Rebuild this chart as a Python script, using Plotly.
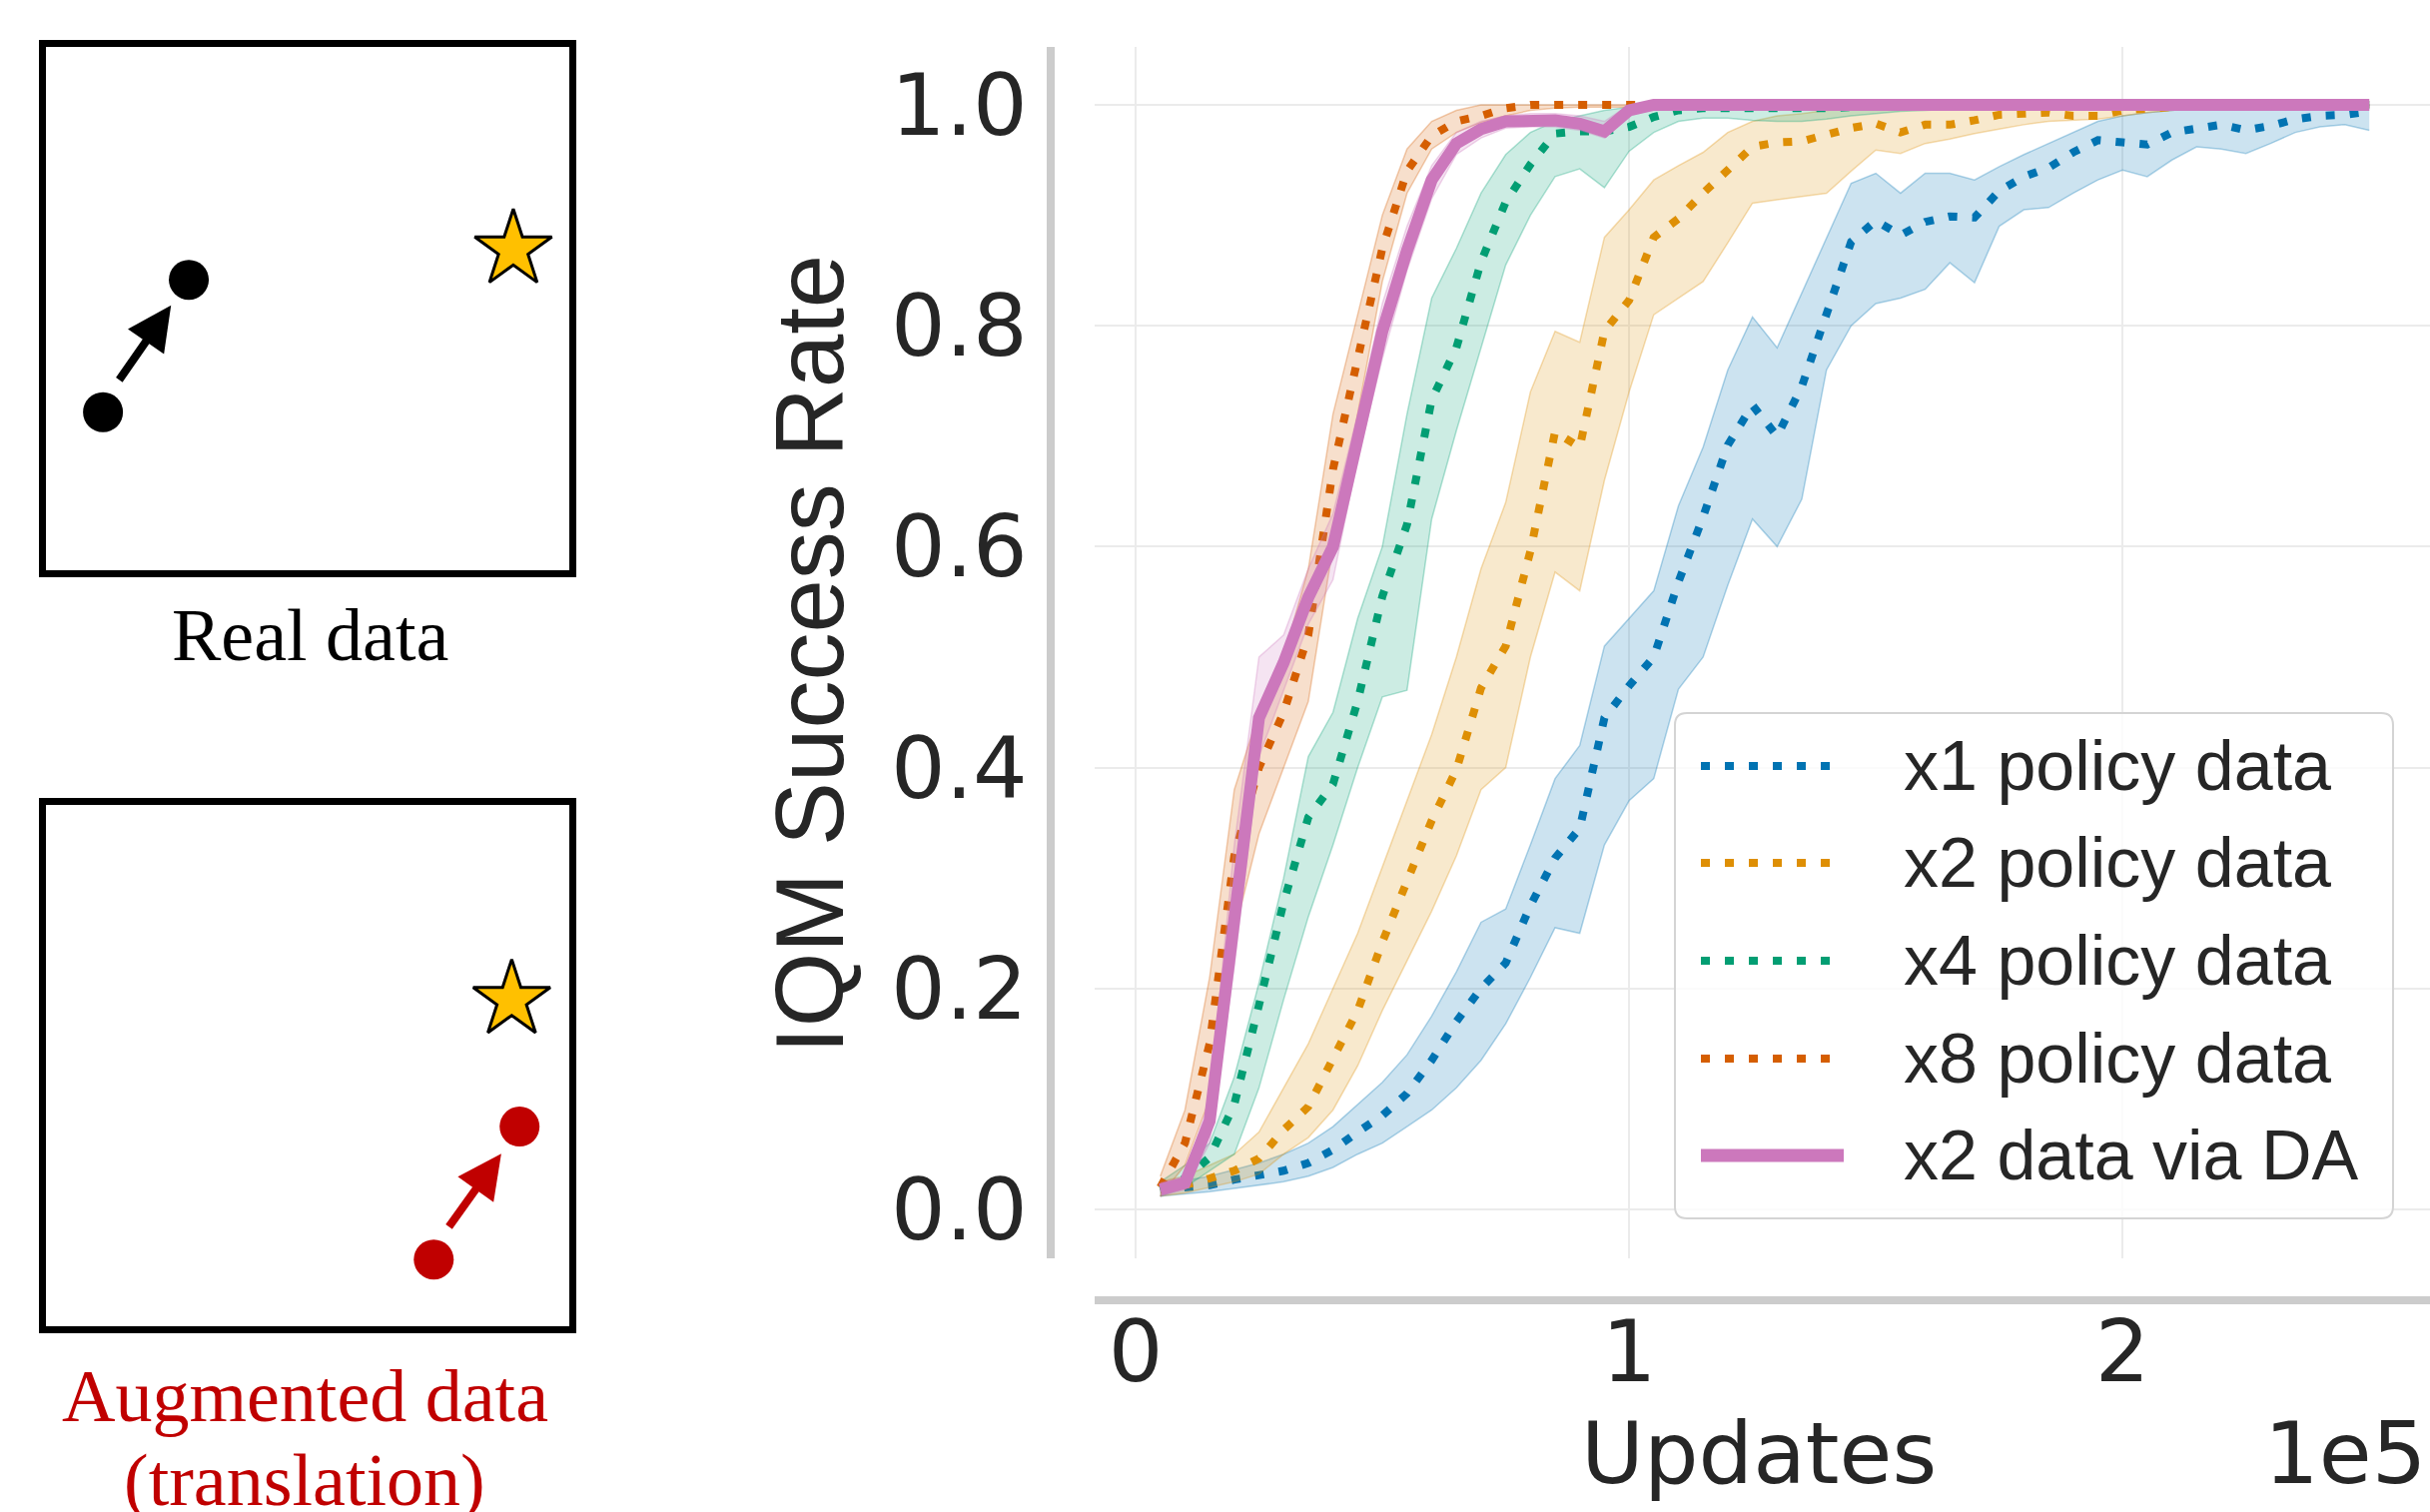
import plotly.graph_objects as go

W, H = 2433, 1514

# ---------------- data (updates in units of 1e5) ----------------
updates = [0.05, 0.10, 0.15, 0.20, 0.25, 0.30, 0.35, 0.40, 0.45, 0.50,
           0.55, 0.60, 0.65, 0.70, 0.75, 0.80, 0.85, 0.90, 0.95, 1.00,
           1.05, 1.10, 1.15, 1.20, 1.25, 1.30, 1.35, 1.40, 1.45, 1.50,
           1.55, 1.60, 1.65, 1.70, 1.75, 1.80, 1.85, 1.90, 1.95, 2.00,
           2.05, 2.10, 2.15, 2.20, 2.25, 2.30, 2.35, 2.40, 2.45, 2.50]

x1_mean = [.018, .020, .022, .027, .031, .035, .042, .054, .070, .085,
           .105, .135, .170, .200, .223, .275, .318, .345, .445, .474,
           .500, .568, .627, .692, .728, .700, .745, .812, .876, .895,
           .882, .894, .899, .898, .922, .935, .943, .957, .968, .966,
           .964, .975, .979, .982, .977, .981, .987, .990, .991, .994]
x1_low = [.012, .014, .016, .019, .022, .025, .030, .038, .050, .060,
          .075, .090, .110, .135, .168, .210, .255, .250, .330, .370,
          .390, .471, .500, .565, .625, .600, .643, .760, .800, .820,
          .825, .833, .857, .839, .890, .905, .907, .920, .932, .941,
          .935, .950, .962, .960, .956, .965, .975, .980, .982, .977]
x1_high = [.022, .026, .030, .036, .042, .050, .060, .075, .095, .115,
           .140, .175, .215, .260, .272, .330, .390, .420, .510, .535,
           .560, .637, .690, .760, .808, .780, .830, .880, .929, .938,
           .920, .938, .938, .932, .944, .955, .965, .975, .985, .990,
           .993, .995, .997, 1.0, 1.0, 1.0, 1.0, 1.0, 1.0, 1.0]

x2_mean = [.018, .022, .028, .035, .046, .072, .093, .137, .180, .242,
           .295, .352, .398, .472, .510, .596, .704, .690, .795, .823,
           .880, .897, .920, .940, .962, .966, .967, .973, .979, .983,
           .975, .982, .982, .986, .991, .992, .993, .990, .990, .995,
           .997, .998, .999, 1.0, 1.0, 1.0, 1.0, 1.0, 1.0, 1.0]
x2_low = [.012, .015, .020, .025, .032, .050, .065, .090, .130, .180,
          .225, .270, .320, .380, .400, .500, .577, .560, .660, .740,
          .810, .825, .840, .875, .911, .914, .917, .920, .940, .959,
          .956, .965, .969, .974, .978, .982, .985, .986, .987, .990,
          .993, .995, .997, .998, .998, .998, .998, .998, .998, .998]
x2_high = [.025, .030, .040, .050, .070, .110, .150, .200, .250, .310,
           .370, .430, .500, .580, .640, .740, .795, .785, .880, .905,
           .932, .945, .957, .975, .985, .990, .992, .995, .997, 1.0,
           1.0, 1.0, 1.0, 1.0, 1.0, 1.0, 1.0, 1.0, 1.0, 1.0,
           1.0, 1.0, 1.0, 1.0, 1.0, 1.0, 1.0, 1.0, 1.0, 1.0]

x4_mean = [.018, .028, .047, .095, .185, .278, .355, .385, .460, .555,
           .620, .733, .780, .858, .912, .946, .974, .976, .976, .980,
           .989, .995, .997, .997, .997, .996, .996, .997, .998, .998,
           .999, 1.0, 1.0, 1.0, 1.0, 1.0, 1.0, 1.0, 1.0, 1.0,
           1.0, 1.0, 1.0, 1.0, 1.0, 1.0, 1.0, 1.0, 1.0, 1.0]
x4_low = [.012, .020, .035, .050, .110, .190, .265, .330, .400, .464,
          .470, .625, .705, .780, .855, .900, .935, .942, .925, .958,
          .975, .985, .988, .988, .986, .985, .985, .987, .990, .992,
          .994, .995, .996, .997, .998, .998, .998, .998, .998, .998,
          .998, .998, .998, .998, .998, .998, .998, .998, .998, .998]
x4_high = [.025, .040, .060, .120, .205, .300, .410, .450, .535, .600,
           .720, .825, .870, .920, .955, .975, .985, .990, .995, .998,
           1.0, 1.0, 1.0, 1.0, 1.0, 1.0, 1.0, 1.0, 1.0, 1.0,
           1.0, 1.0, 1.0, 1.0, 1.0, 1.0, 1.0, 1.0, 1.0, 1.0,
           1.0, 1.0, 1.0, 1.0, 1.0, 1.0, 1.0, 1.0, 1.0, 1.0]

x8_mean = [.020, .060, .150, .320, .400, .450, .520, .670, .770, .870,
           .940, .972, .985, .990, .997, 1.0, 1.0, 1.0, 1.0, 1.0,
           1.0, 1.0, 1.0, 1.0, 1.0, 1.0, 1.0, 1.0, 1.0, 1.0,
           1.0, 1.0, 1.0, 1.0, 1.0, 1.0, 1.0, 1.0, 1.0, 1.0,
           1.0, 1.0, 1.0, 1.0, 1.0, 1.0, 1.0, 1.0, 1.0, 1.0]
x8_low = [.012, .040, .100, .250, .340, .400, .460, .600, .720, .840,
          .920, .960, .975, .984, .990, .995, .997, .998, .998, .998,
          .998, .998, .998, .998, .998, .998, .998, .998, .998, .998,
          .998, .998, .998, .998, .998, .998, .998, .998, .998, .998,
          .998, .998, .998, .998, .998, .998, .998, .998, .998, .998]
x8_high = [.030, .090, .210, .380, .450, .500, .580, .720, .810, .900,
           .960, .985, .995, 1.0, 1.0, 1.0, 1.0, 1.0, 1.0, 1.0,
           1.0, 1.0, 1.0, 1.0, 1.0, 1.0, 1.0, 1.0, 1.0, 1.0,
           1.0, 1.0, 1.0, 1.0, 1.0, 1.0, 1.0, 1.0, 1.0, 1.0,
           1.0, 1.0, 1.0, 1.0, 1.0, 1.0, 1.0, 1.0, 1.0, 1.0]

da_mean = [.018, .024, .080, .270, .445, .495, .554, .600, .700, .795,
           .868, .932, .965, .978, .985, .986, .986, .983, .976, .995,
           1.0, 1.0, 1.0, 1.0, 1.0, 1.0, 1.0, 1.0, 1.0, 1.0,
           1.0, 1.0, 1.0, 1.0, 1.0, 1.0, 1.0, 1.0, 1.0, 1.0,
           1.0, 1.0, 1.0, 1.0, 1.0, 1.0, 1.0, 1.0, 1.0, 1.0]
da_low = [.012, .018, .060, .220, .410, .470, .530, .570, .680, .770,
          .850, .915, .955, .970, .979, .980, .980, .977, .970, .990,
          .996, .996, .996, .996, .996, .996, .996, .996, .996, .996,
          .996, .996, .996, .996, .996, .996, .996, .996, .996, .996,
          .996, .996, .996, .996, .996, .996, .996, .996, .996, .996]
da_high = [.024, .030, .100, .330, .500, .520, .580, .630, .720, .820,
           .890, .945, .975, .985, .990, .992, .992, .990, .985, 1.0,
           1.003, 1.003, 1.003, 1.003, 1.003, 1.003, 1.003, 1.003, 1.003, 1.003,
           1.003, 1.003, 1.003, 1.003, 1.003, 1.003, 1.003, 1.003, 1.003, 1.003,
           1.003, 1.003, 1.003, 1.003, 1.003, 1.003, 1.003, 1.003, 1.003, 1.003]

series_names = ["x1 policy data", "x2 policy data", "x4 policy data",
                "x8 policy data", "x2 data via DA"]
x_tick_vals = [0, 1, 2]
x_tick_text = ["0", "1", "2"]
y_tick_vals = [0.0, 0.2, 0.4, 0.6, 0.8, 1.0]
y_tick_text = ["0.0", "0.2", "0.4", "0.6", "0.8", "1.0"]

# schematic panels (box coordinates 0..1)
real_pts_x = [0.109, 0.273]
real_pts_y = [0.302, 0.555]
real_goal_x = [0.893]
real_goal_y = [0.613]
real_arrow = [0.138, 0.361, 0.239, 0.506]   # tail x, tail y, tip x, tip y
aug_pts_x = [0.741, 0.905]
aug_pts_y = [0.128, 0.383]
aug_goal_x = [0.890]
aug_goal_y = [0.626]
aug_arrow = [0.768, 0.188, 0.870, 0.331]

# ---------------- style ----------------
BLUE, ORANGE, GREEN, VERM, PINK = "#0173B2", "#DE8F05", "#029E73", "#D55E00", "#CC78BC"
RED = "#C00000"
GOLD = "#FFC000"
TEXT = "#262626"
DOT = "9px,15px"


def px(x):
    return x / W


def py(y):
    return (H - y) / H


def rgba(h, a):
    h = h.lstrip("#")
    return "rgba(%d,%d,%d,%.3f)" % (int(h[0:2], 16), int(h[2:4], 16), int(h[4:6], 16), a)


fig = go.Figure()

series = [
    (series_names[0], x1_mean, x1_low, x1_high, BLUE, True),
    (series_names[1], x2_mean, x2_low, x2_high, ORANGE, True),
    (series_names[2], x4_mean, x4_low, x4_high, GREEN, True),
    (series_names[3], x8_mean, x8_low, x8_high, VERM, True),
    (series_names[4], da_mean, da_low, da_high, PINK, False),
]

for name, m, lo, hi, c, dotted in series:
    fig.add_trace(go.Scatter(x=updates, y=lo, mode="lines",
                             line=dict(color=rgba(c, 0.30), width=1.5),
                             showlegend=False, hoverinfo="skip"))
    fig.add_trace(go.Scatter(x=updates, y=hi, mode="lines", fill="tonexty",
                             fillcolor=rgba(c, 0.20),
                             line=dict(color=rgba(c, 0.30), width=1.5),
                             showlegend=False, hoverinfo="skip"))
    fig.add_trace(go.Scatter(x=updates, y=m, mode="lines", name=name,
                             line=dict(color=c, width=8 if dotted else 12,
                                       dash=DOT if dotted else "solid"),
                             showlegend=False))

# schematic traces
fig.add_trace(go.Scatter(x=real_pts_x, y=real_pts_y, mode="markers", xaxis="x2", yaxis="y2",
                         marker=dict(size=40, color="black"), showlegend=False))
fig.add_trace(go.Scatter(x=real_goal_x, y=real_goal_y, mode="markers", xaxis="x2", yaxis="y2",
                         marker=dict(symbol="star", size=58, color=GOLD,
                                     line=dict(color="black", width=3)), showlegend=False))
fig.add_trace(go.Scatter(x=aug_pts_x, y=aug_pts_y, mode="markers", xaxis="x3", yaxis="y3",
                         marker=dict(size=40, color=RED), showlegend=False))
fig.add_trace(go.Scatter(x=aug_goal_x, y=aug_goal_y, mode="markers", xaxis="x3", yaxis="y3",
                         marker=dict(symbol="star", size=58, color=GOLD,
                                     line=dict(color="black", width=3)), showlegend=False))

annotations = []
for arr, ax_id, col in [(real_arrow, "2", "black"), (aug_arrow, "3", RED)]:
    annotations.append(dict(x=arr[2], y=arr[3], ax=arr[0], ay=arr[1],
                            xref="x" + ax_id, yref="y" + ax_id,
                            axref="x" + ax_id, ayref="y" + ax_id,
                            showarrow=True, arrowhead=2, arrowsize=1.1, arrowwidth=8,
                            arrowcolor=col, text="", standoff=0, startstandoff=0))

serif = "Liberation Serif"
annotations += [
    dict(x=px(310), y=py(636), xref="paper", yref="paper", text="Real data", showarrow=False,
         font=dict(family=serif, size=74, color="black"), xanchor="center", yanchor="middle"),
    dict(x=px(305), y=py(1398), xref="paper", yref="paper", text="Augmented data", showarrow=False,
         font=dict(family=serif, size=74, color=RED), xanchor="center", yanchor="middle"),
    dict(x=px(305), y=py(1482), xref="paper", yref="paper", text="(translation)", showarrow=False,
         font=dict(family=serif, size=74, color=RED), xanchor="center", yanchor="middle"),
    dict(x=px(810), y=py(655), xref="paper", yref="paper", text="IQM Success Rate", showarrow=False,
         textangle=-90, font=dict(family="Liberation Sans", size=96, color=TEXT),
         xanchor="center", yanchor="middle"),
    dict(x=px(1761), y=py(1455), xref="paper", yref="paper", text="Updates", showarrow=False,
         font=dict(family="DejaVu Sans", size=86, color=TEXT), xanchor="center", yanchor="middle"),
    dict(x=px(2431), y=py(1455), xref="paper", yref="paper", text="1e5", showarrow=False,
         font=dict(family="DejaVu Sans", size=86, color=TEXT), xanchor="right", yanchor="middle"),
]

# ---------------- legend (drawn manually) ----------------
def rrect(x0, y0, x1, y1, r):
    def P(x, y):
        return "%.5f,%.5f" % (px(x), py(y))
    return ("M" + P(x0 + r, y0) + " L" + P(x1 - r, y0) + " Q" + P(x1, y0) + " " + P(x1, y0 + r) +
            " L" + P(x1, y1 - r) + " Q" + P(x1, y1) + " " + P(x1 - r, y1) +
            " L" + P(x0 + r, y1) + " Q" + P(x0, y1) + " " + P(x0, y1 - r) +
            " L" + P(x0, y0 + r) + " Q" + P(x0, y0) + " " + P(x0 + r, y0) + " Z")


shapes = [dict(type="path", xref="paper", yref="paper", path=rrect(1677, 714, 2396, 1220, 12),
               fillcolor="rgba(255,255,255,0.8)", line=dict(color="#d4d4d4", width=2), layer="above")]
rows = [767, 864, 962, 1060, 1157]
for (name, m, lo, hi, c, dotted), ry in zip(series, rows):
    shapes.append(dict(type="line", xref="paper", yref="paper",
                       x0=px(1703), x1=px(1846), y0=py(ry), y1=py(ry),
                       line=dict(color=c, width=8 if dotted else 13,
                                 dash=DOT if dotted else "solid"), layer="above"))
    annotations.append(dict(x=px(1904), y=py(ry), xref="paper", yref="paper", text=name,
                            showarrow=False, xanchor="left", yanchor="middle",
                            font=dict(family="Liberation Sans", size=70, color=TEXT)))

box_axis = dict(range=[0, 1], showline=True, mirror=True, linecolor="black", linewidth=7,
                showgrid=False, zeroline=False, showticklabels=False, ticks="", fixedrange=True)

fig.update_layout(
    width=W, height=H, autosize=False,
    margin=dict(l=0, r=0, t=0, b=0, pad=0),
    paper_bgcolor="white", plot_bgcolor="white",
    showlegend=False,
    xaxis=dict(domain=[px(1096), 1.0], range=[-0.083, 2.623], anchor="free", position=py(1302),
               showline=True, linecolor="#cccccc", linewidth=8,
               showgrid=True, gridcolor="#ebebeb", gridwidth=2, zeroline=False,
               tickvals=x_tick_vals, ticktext=x_tick_text, ticks="",
               tickfont=dict(family="DejaVu Sans", size=86, color=TEXT), ticklabelstandoff=-26),
    yaxis=dict(domain=[py(1260), py(47)], range=[-0.0443, 1.0524], anchor="free", position=px(1052),
               showline=True, linecolor="#cccccc", linewidth=8,
               showgrid=True, gridcolor="#ebebeb", gridwidth=2, zeroline=False,
               tickvals=y_tick_vals, ticktext=y_tick_text, ticks="",
               tickfont=dict(family="DejaVu Sans", size=86, color=TEXT), ticklabelstandoff=2),
    xaxis2=dict(domain=[px(46), px(570)], anchor="y2", **box_axis),
    yaxis2=dict(domain=[py(571), py(47)], anchor="x2", **box_axis),
    xaxis3=dict(domain=[px(46), px(570)], anchor="y3", **box_axis),
    yaxis3=dict(domain=[py(1328), py(806)], anchor="x3", **box_axis),
    annotations=annotations,
    shapes=shapes,
)

fig.write_html("out.html", config={"displayModeBar": False},
               post_script="document.body.style.margin='0px';")
